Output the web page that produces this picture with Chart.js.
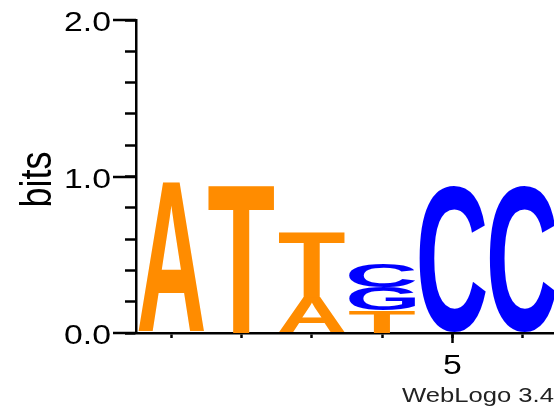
<!DOCTYPE html>
<html><head><meta charset="utf-8">
<script src="https://cdn.jsdelivr.net/npm/chart.js@4/dist/chart.umd.min.js"></script>
<style>
html,body{margin:0;padding:0;background:#fff;overflow:hidden;}
#wrap{width:554px;height:406px;overflow:hidden;position:relative;background:#fff;}
canvas{display:block;}
</style></head><body>
<div id="wrap"><canvas id="c" width="600" height="406" style="width:600px;height:406px"></canvas></div>
<script>
// ---- data ----
const positions = ['1', '2', '3', '4', '5', '6'];
const bitsA = [0.958, 0, 0.225, 0, 0, 0];
const bitsT = [0, 0.952, 0.420, 0.145, 0, 0];
const bitsG = [0, 0, 0, 0.147, 0, 0];
const bitsC = [0, 0, 0, 0.148, 0.940, 0.940];
const yMajorTicks = [0, 1, 2];
const yTickLabels = ['0.0', '1.0', '2.0'];
const xLabelledPositions = ['5'];
const yTitle = 'bits';
const fineprint = 'WebLogo 3.4';

const ORANGE = '#FF8C00';
const BLUE = '#0000FF';
const TEXT_SCALE_X = 1.25;
const FONT = '"Liberation Sans", Arial, Helvetica, sans-serif';

function drawGlyph(ctx, ch, color, left, top, w, h) {
  if (h <= 0.5 || w <= 0) return;
  ctx.save();
  ctx.font = 'bold 200px ' + FONT;
  const m = ctx.measureText(ch);
  const inkW = m.actualBoundingBoxLeft + m.actualBoundingBoxRight;
  const inkH = m.actualBoundingBoxAscent + m.actualBoundingBoxDescent;
  ctx.translate(left, top);
  ctx.scale(w / inkW, h / inkH);
  ctx.fillStyle = color;
  ctx.textAlign = 'left';
  ctx.textBaseline = 'alphabetic';
  ctx.fillText(ch, m.actualBoundingBoxLeft, m.actualBoundingBoxAscent);
  ctx.restore();
}

const logoPlugin = {
  id: 'logo',
  afterDatasetsDraw(chart) {
    const ctx = chart.ctx;
    chart.data.datasets.forEach((ds, i) => {
      const meta = chart.getDatasetMeta(i);
      meta.data.forEach((el, j) => {
        if (!(ds.data[j] > 0)) return;
        const p = el.getProps(['x', 'y', 'base', 'width'], true);
        drawGlyph(ctx, ds.label, ds.glyphColor, p.x - p.width / 2, p.y, p.width, p.base - p.y);
      });
    });
  },
  afterDraw(chart) {
    const ctx = chart.ctx;
    const ys = chart.scales.y, xs = chart.scales.x;
    const left = chart.chartArea.left, bottom = chart.chartArea.bottom;
    ctx.save();
    // major y ticks (longer)
    ctx.strokeStyle = '#000';
    ctx.lineWidth = 2.5;
    yMajorTicks.forEach(v => {
      const py = Math.round(ys.getPixelForValue(v));
      ctx.beginPath(); ctx.moveTo(113, py); ctx.lineTo(left, py); ctx.stroke();
    });
    // major x tick(s)
    xLabelledPositions.forEach(lab => {
      const px = xs.getPixelForValue(positions.indexOf(lab));
      ctx.beginPath(); ctx.moveTo(px, bottom); ctx.lineTo(px, bottom + 10); ctx.stroke();
    });
    ctx.fillStyle = '#000';
    // y tick labels
    ctx.font = '27px ' + FONT;
    ctx.textAlign = 'right';
    ctx.textBaseline = 'alphabetic';
    yMajorTicks.forEach((v, k) => {
      const py = ys.getPixelForValue(v);
      ctx.save(); ctx.translate(111, py + 11); ctx.scale(TEXT_SCALE_X, 1);
      ctx.fillText(yTickLabels[k], 0, 0); ctx.restore();
    });
    // x tick labels
    ctx.textAlign = 'center';
    xLabelledPositions.forEach(lab => {
      const px = xs.getPixelForValue(positions.indexOf(lab));
      ctx.save(); ctx.translate(px, bottom + 40.5); ctx.scale(TEXT_SCALE_X, 1);
      ctx.fillText(lab, 0, 0); ctx.restore();
    });
    // y title
    ctx.save();
    ctx.font = '36px ' + FONT;
    ctx.translate(51, (ys.getPixelForValue(0) + ys.getPixelForValue(2)) / 2 + 3);
    ctx.rotate(-Math.PI / 2);
    ctx.scale(1, TEXT_SCALE_X);
    ctx.textAlign = 'center';
    ctx.fillText(yTitle, 0, 0);
    ctx.restore();
    // fine print
    ctx.save();
    ctx.font = '20.5px ' + FONT;
    ctx.fillStyle = '#222';
    ctx.textAlign = 'left';
    ctx.translate(402, 402);
    ctx.scale(TEXT_SCALE_X, 1);
    ctx.fillText(fineprint, 0, 0);
    ctx.restore();
    ctx.restore();
  }
};

const mk = (label, data, color) => ({
  label, data, glyphColor: color,
  backgroundColor: 'rgba(0,0,0,0)', borderWidth: 0,
  categoryPercentage: 1.0, barPercentage: 0.94
});

new Chart(document.getElementById('c'), {
  type: 'bar',
  data: {
    labels: positions,
    datasets: [
      mk('A', bitsA, ORANGE),
      mk('T', bitsT, ORANGE),
      mk('G', bitsG, BLUE),
      mk('C', bitsC, BLUE)
    ]
  },
  options: {
    responsive: false,
    devicePixelRatio: 1,
    animation: false,
    events: [],
    layout: { padding: { top: 20, right: 42, bottom: 0, left: 0 } },
    plugins: { legend: { display: false }, tooltip: { enabled: false }, title: { display: false } },
    scales: {
      x: {
        stacked: true,
        offset: true,
        z: 1,
        border: { display: true, color: '#000', width: 2.5 },
        grid: { display: true, drawOnChartArea: false, drawTicks: true, offset: false,
                tickLength: 5, tickWidth: 2.5, tickColor: '#000' },
        ticks: { display: false },
        afterFit(scale) { scale.height = 73; }
      },
      y: {
        stacked: true,
        min: 0, max: 2,
        z: 1,
        border: { display: true, color: '#000', width: 2.5 },
        grid: { display: true, drawOnChartArea: false, drawTicks: true,
                tickLength: 11, tickWidth: 2.5, tickColor: '#000' },
        ticks: { display: false, stepSize: 0.2 },
        afterFit(scale) { scale.width = 136; }
      }
    }
  },
  plugins: [logoPlugin]
});
</script>
</body></html>
